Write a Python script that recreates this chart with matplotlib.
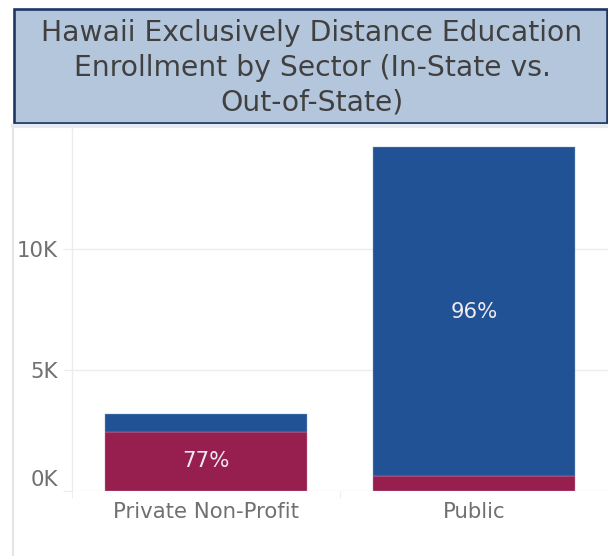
import numpy as np
import matplotlib.pyplot as plt
from matplotlib.patches import Rectangle
from matplotlib.lines import Line2D
from matplotlib.transforms import ScaledTranslation

sectors = ['Private Non-Profit', 'Public']
out_state = [2450, 607]      # maroon segment (bottom)
in_state = [744, 13620]      # blue segment (top)
pct_labels = ['77%', '96%']
ytick_vals = [0, 5000, 10000]
ytick_text = ['0K', '5K', '10K']

red = '#961f50'
blue = '#215296'
grid_c = '#ececec'
txt_c = '#707070'

W, H = 608, 556
fig = plt.figure(figsize=(W / 100, H / 100), dpi=100)

# panel frame lines
fig.add_artist(Line2D([13 / W, 13 / W], [0, (H - 125) / H], color='#e3e6eb', lw=1.5))
fig.add_artist(Line2D([13 / W, 1], [(H - 126) / H, (H - 126) / H], color='#e6ebf2', lw=3))

# title box
fig.add_artist(Rectangle((14 / W, (H - 123) / H), 593 / W, 114 / H,
                         facecolor='#b4c6dc', edgecolor='#1e3864', lw=1.9))
fig.text(312 / W, (H - 67.5) / H,
         'Hawaii Exclusively Distance Education\nEnrollment by Sector (In-State vs.\nOut-of-State)',
         ha='center', va='center', fontsize=20.3, color='#404040', linespacing=1.3)

ax = fig.add_axes([72 / W, (H - 491) / H, (W - 72) / W, (491 - 128) / H])
x = np.arange(len(sectors))
ax.bar(x, out_state, width=0.754, color=red, edgecolor='#c98aa4', linewidth=0.3, zorder=3)
ax.bar(x, in_state, bottom=out_state, width=0.754, color=blue, edgecolor='#8fa8cc',
       linewidth=0.3, zorder=3)

# percentage labels in the larger segment
for i in range(len(sectors)):
    if out_state[i] >= in_state[i]:
        yc = out_state[i] / 2
    else:
        yc = out_state[i] + in_state[i] / 2
    ax.text(x[i], yc, pct_labels[i], ha='center', va='center', color='#f0eaee',
            fontsize=15.3, zorder=4)

ax.set_xlim(-0.5, 1.5)
ax.set_ylim(0, 15000)
for s in ['top', 'right', 'bottom']:
    ax.spines[s].set_visible(False)
ax.spines['left'].set_color(grid_c)
ax.spines['left'].set_linewidth(1)

ax.set_yticks(ytick_vals)
ax.set_yticklabels(ytick_text)
ax.yaxis.grid(True, color=grid_c, lw=1, zorder=0)
ax.tick_params(axis='y', length=6.5, color=grid_c, pad=3.6, labelsize=15.3, labelcolor=txt_c)
ax.set_xticks(x)
ax.set_xticklabels(sectors)
ax.tick_params(axis='x', length=0, pad=8, labelsize=15.3, labelcolor=txt_c)
ax.set_xticks([-0.5, 0.5], minor=True)
ax.tick_params(axis='x', which='minor', length=5, color=grid_c)

# lift the 0K label above the baseline
lab0 = ax.get_yticklabels()[0]
lab0.set_transform(lab0.get_transform() + ScaledTranslation(0, 13 / 100, fig.dpi_scale_trans))

fig.savefig('out.png', dpi=100)
